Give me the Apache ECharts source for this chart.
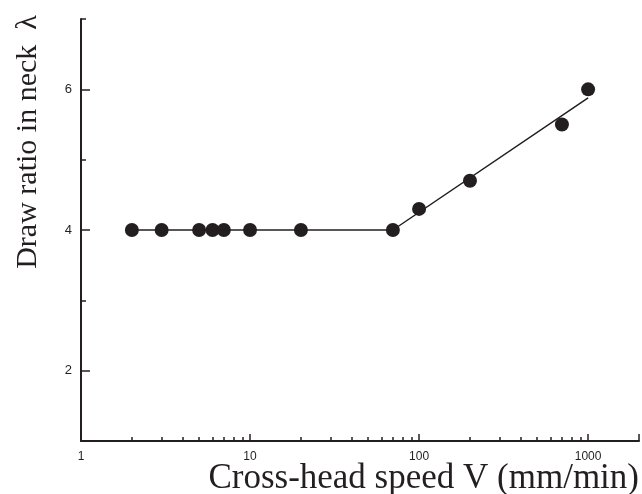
<!DOCTYPE html>
<html>
<head>
<meta charset="utf-8">
<script src="https://cdn.jsdelivr.net/npm/echarts@6/dist/echarts.min.js"></script>
<style>
  html, body { margin: 0; padding: 0; background: #fff; }
  #chart { width: 642px; height: 494px; }
</style>
</head>
<body>
<div id="chart"></div>
<script>
// measured points
const speed = [2, 3, 5, 6, 7, 10, 20, 70, 100, 200, 700, 1000]
const ratio = [4, 4, 4, 4, 4, 4, 4, 4, 4.3, 4.7, 5.5, 6.0]
// fitted line (two pieces)
const fitSpeed = [2, 70, 1000]
const fitRatio = [4, 4, 5.88]

const xLabels = [1, 10, 100, 1000]
const xMajor = [1, 10, 100, 1000, 2000]
const xMinor = [2, 3, 4, 5, 6, 7, 8, 9, 20, 30, 40, 50, 60, 70, 80, 90, 200, 300, 400, 500, 600, 700, 800, 900]
const yLabels = [2, 4, 6]
const yMinor = [1, 3, 5, 7]

const ink = '#231f20'

const chart = echarts.init(document.getElementById('chart'))

const option = {
    backgroundColor: '#fff',
    animation: false,
    grid: { left: 81, right: 3, top: 19, bottom: 53 },
    xAxis: [
        {
            type: 'log', logBase: 10, min: 1, max: 2000,
            axisLine: { lineStyle: { color: ink, width: 2 } },
            axisTick: { inside: true, length: 7, lineStyle: { color: ink, width: 1.5 }, customValues: xMajor },
            axisLabel: {
                customValues: xLabels, color: ink, fontSize: 12, fontFamily: 'Liberation Sans', margin: 10,
                formatter: v => String(Math.round(v))
            },
            splitLine: { show: false }
        },
        {
            type: 'log', logBase: 10, min: 1, max: 2000, position: 'bottom',
            axisLine: { show: false },
            axisTick: { inside: true, length: 4, lineStyle: { color: ink, width: 1.5 }, customValues: xMinor },
            axisLabel: { show: false },
            splitLine: { show: false }
        }
    ],
    yAxis: [
        {
            type: 'value', min: 1, max: 7,
            axisLine: { show: true, lineStyle: { color: ink, width: 2 } },
            axisTick: { show: true, inside: true, length: 9, lineStyle: { color: ink, width: 1.5 }, customValues: yLabels },
            axisLabel: { customValues: yLabels, color: ink, fontSize: 13, fontFamily: 'Liberation Sans', margin: 9 },
            splitLine: { show: false }
        },
        {
            type: 'value', min: 1, max: 7, position: 'left',
            axisLine: { show: false },
            axisTick: { show: true, inside: true, length: 5, lineStyle: { color: ink, width: 1.5 }, customValues: yMinor },
            axisLabel: { show: false },
            splitLine: { show: false }
        }
    ],
    graphic: [
        {
            type: 'text', right: 3, top: 461,
            style: { text: 'Cross-head speed V (mm/min)', font: '35px "Liberation Serif"', fill: ink }
        },
        {
            type: 'text', x: 13, y: 142, rotation: Math.PI / 2,
            style: { text: 'Draw ratio in neck  λ', font: '30px "Liberation Serif"', fill: ink, align: 'center', verticalAlign: 'top' }
        }
    ],
    series: [
        {
            type: 'line',
            data: fitSpeed.map((v, i) => [v, fitRatio[i]]),
            showSymbol: false,
            lineStyle: { color: ink, width: 1.5 },
            silent: true
        },
        {
            type: 'scatter',
            data: speed.map((v, i) => [v, ratio[i]]),
            symbolSize: 14,
            itemStyle: { color: ink, opacity: 1 }
        }
    ]
}

chart.setOption(option)
</script>
</body>
</html>
